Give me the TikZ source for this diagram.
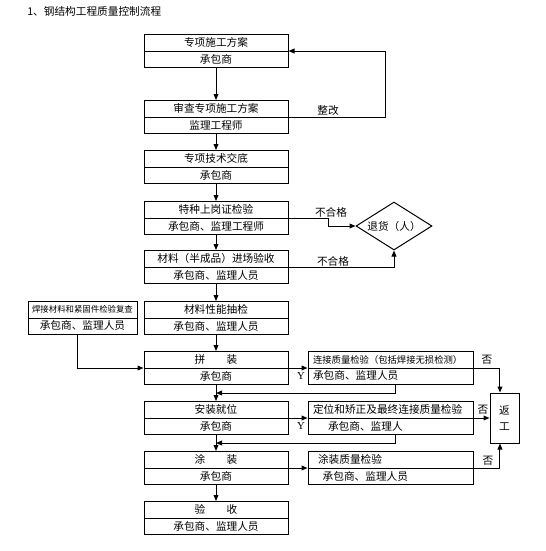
\documentclass[tikz,border=0pt]{standalone}
\usepackage{fontspec}
\setmainfont{Noto Sans CJK SC}
\newfontfamily\latinserif{Liberation Serif}
\usetikzlibrary{arrows.meta,shapes.geometric,calc}
\tikzset{
  box/.style={rectangle, draw, line width=0.75pt, minimum width=#1, minimum height=24.75pt,
              inner sep=0pt, align=center, font=\fontsize{8}{12.4}\selectfont,
              path picture={\draw[line width=0.75pt] (path picture bounding box.west) -- (path picture bounding box.east);}},
  box/.default=108pt,
  lbox/.style={box=123.75pt, align=left, text width=123.75pt},
  arr/.style={-{Triangle[length=4.5pt,width=3.6pt]}, line width=0.75pt},
  lbl/.style={inner sep=0pt, font=\fontsize{8}{9}\selectfont},
}

\begin{document}
\begin{tikzpicture}[x=0.75pt, y=-0.75pt]
        \useasboundingbox (0,0) rectangle (546,551);

        % Title
        \node[lbl, anchor=west] (title) at (27,11) {1、钢结构工程质量控制流程};

        % Main column
        \node[box] (plan)    at (216,51)  {专项施工方案\\承包商};
        \node[box] (review)  at (216,117) {审查专项施工方案\\监理工程师};
        \node[box] (brief)   at (216,167) {专项技术交底\\承包商};
        \node[box] (cert)    at (216,218) {特种上岗证检验\\承包商、监理工程师};
        \node[box] (matin)   at (216,267) {材料（半成品）进场验收\\承包商、监理人员};
        \node[box] (mattest) at (216,318) {材料性能抽检\\承包商、监理人员};
        \node[box] (assy)    at (216,368) {拼\hspace{2em}装\\承包商};
        \node[box] (erect)   at (216,418) {安装就位\\承包商};
        \node[box] (paint)   at (216,468) {涂\hspace{2em}装\\承包商};
        \node[box] (accept)  at (216,518) {验\hspace{2em}收\\承包商、监理人员};

        % Side checks
        \node[box=81.75pt] (weldchk) at (82.5,318)
              {{\fontsize{6.3}{12.4}\selectfont 焊接材料和紧固件检验复查}\\承包商、监理人员};
        \node[lbox] (jointchk) at (390.5,368)
              {\hspace*{3.75pt}{\fontsize{7}{12.4}\selectfont 连接质量检验（包括焊接无损检测）}\\\hspace*{3.75pt}承包商、监理人员};
        \node[lbox] (poschk) at (390.5,418)
              {\hspace*{3.75pt}定位和矫正及最终连接质量检验\\\hspace*{15pt}承包商、监理人};
        \node[lbox] (paintchk) at (390.5,468)
              {\hspace*{7.5pt}涂装质量检验\\\hspace*{11pt}承包商、监理人员};

        % Reject and rework
        \node[diamond, draw, line width=0.75pt, minimum width=57pt, minimum height=36pt,
              shape aspect=1.58, inner sep=0pt, font=\fontsize{8}{9}\selectfont]
              (reject) at (394,226) {退货（人）};
        \node[draw, line width=0.75pt, minimum width=21.75pt, minimum height=37.5pt,
              inner sep=0pt, align=center, font=\fontsize{8}{12}\selectfont]
              (rework) at (504.5,418) {返\\工};

        % Main flow
        \foreach \a/\b in {plan/review, review/brief, brief/cert, cert/matin, matin/mattest,
                           mattest/assy, assy/erect, erect/paint, paint/accept}
          \draw[arr] (\a) -- (\b);

        % Revise loop
        \draw[arr] (review.east) -- ++(97,0) |- (plan.east);
        \node[lbl] (fix) at (328,110) {整改};

        % Failed checks
        \draw[arr] (cert.east) -- ++(40,0) |- (reject.west);
        \node[lbl] (nogo1) at (331,212) {不合格};
        \draw[arr] (matin.east) -| (reject.south);
        \node[lbl] (nogo2) at (333,261) {不合格};

        % Welding materials
        \draw[arr] ([xshift=-4pt]weldchk.south) |- (assy.west);

        % Quality checks
        \draw[arr] (assy.east) -- (jointchk.west);
        \draw[arr] (erect.east) -- (poschk.west);
        \draw[arr] (paint.east) -- (paintchk.west);
        \node[lbl, font=\latinserif\fontsize{8}{9}\selectfont] (yes1) at (301,376) {Y};
        \node[lbl, font=\latinserif\fontsize{8}{9}\selectfont] (yes2) at (301,426) {Y};

        % Back to main column
        \coordinate (joinA) at ($(assy.south)!0.5!(erect.north)$);
        \coordinate (joinB) at ($(erect.south)!0.5!(paint.north)$);
        \draw[arr] ([xshift=3.4pt]jointchk.south) |- (joinA);
        \draw[arr] ([xshift=3.4pt]poschk.south) |- (joinB);

        % To rework
        \draw[arr] (jointchk.east) -| ([xshift=-3.4pt]rework.north);
        \node[lbl] (no1) at (487,360) {否};
        \draw[arr] (poschk.east) -- (rework.west);
        \node[lbl] (no2) at (483,410) {否};
        \draw[arr] (paintchk.east) -| ([xshift=-3.4pt]rework.south);
        \node[lbl] (no3) at (488,461) {否};
      \end{tikzpicture}
\end{document}
